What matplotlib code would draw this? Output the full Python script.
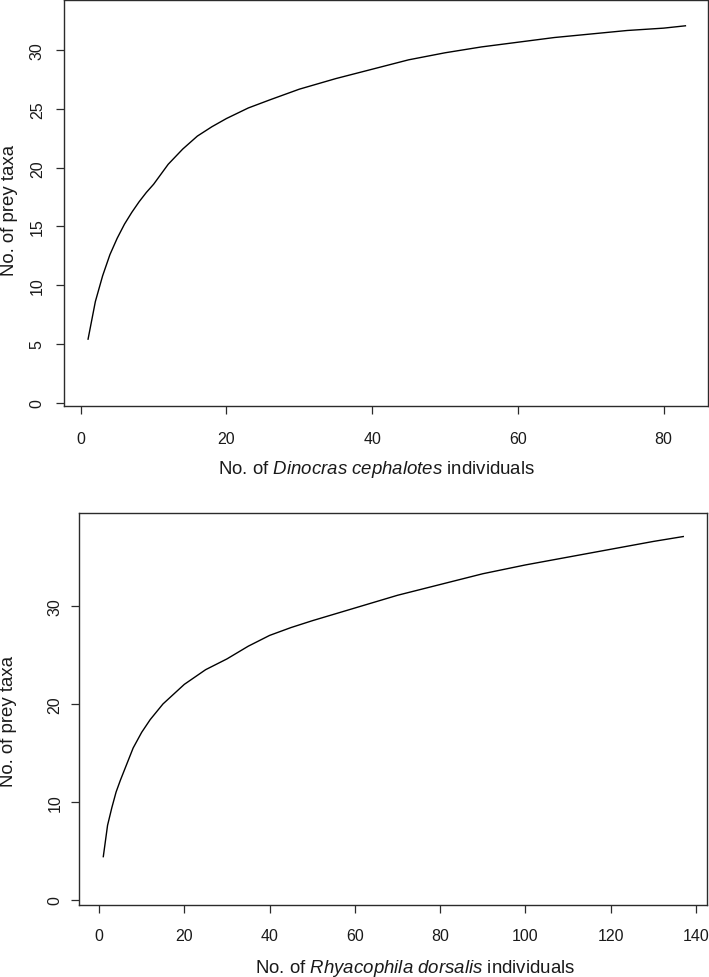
import numpy as np
import matplotlib
matplotlib.use("Agg")
import matplotlib.pyplot as plt

plt.rcParams['font.family'] = ['Liberation Sans', 'DejaVu Sans']
plt.rcParams['mathtext.fontset'] = 'custom'
plt.rcParams['mathtext.it'] = 'Liberation Sans:italic'
plt.rcParams['mathtext.rm'] = 'Liberation Sans'

# rarefaction curve, Dinocras cephalotes
dino_n = [1, 2, 3, 4, 5, 6, 7, 8, 9, 10, 12, 14, 16, 18, 20, 23, 26, 30,
          35, 40, 45, 50, 55, 60, 65, 70, 75, 80, 83]
dino_taxa = [5.4, 8.6, 10.8, 12.6, 14.0, 15.2, 16.2, 17.1, 17.9, 18.6, 20.3,
             21.6, 22.7, 23.5, 24.2, 25.1, 25.8, 26.7, 27.6, 28.4, 29.2, 29.8,
             30.3, 30.7, 31.1, 31.4, 31.7, 31.9, 32.1]

# rarefaction curve, Rhyacophila dorsalis
rhya_n = [1, 2, 3, 4, 5, 6, 8, 10, 12, 15, 20, 25, 30, 35, 40, 45, 50, 60,
          70, 80, 90, 100, 110, 120, 130, 137]
rhya_taxa = [4.4, 7.6, 9.4, 11.0, 12.2, 13.3, 15.5, 17.1, 18.4, 20.0, 22.0,
             23.5, 24.6, 25.9, 27.0, 27.8, 28.5, 29.8, 31.1, 32.2, 33.3, 34.2,
             35.0, 35.8, 36.6, 37.1]

dino_xticks = [0, 20, 40, 60, 80]
dino_yticks = [0, 5, 10, 15, 20, 25, 30]
rhya_xticks = [0, 20, 40, 60, 80, 100, 120, 140]
rhya_yticks = [0, 10, 20, 30]

frame = '#2b2b2b'
ink = '#1a1a1a'

fig = plt.figure(figsize=(7.09, 9.78), dpi=100)
ax1 = fig.add_axes([0.0903, 0.5838, 0.9083, 0.4152])
ax2 = fig.add_axes([0.1114, 0.0739, 0.8854, 0.4002])


def style(ax, xt, yt, xpad, ypad):
    for s in ax.spines.values():
        s.set_color(frame)
        s.set_linewidth(1.0)
    ax.set_xticks(xt)
    ax.set_yticks(yt)
    ax.tick_params(axis='both', length=5.8, width=0.9, color=frame,
                   labelsize=11.5, labelcolor=ink)
    ax.tick_params(axis='x', pad=xpad)
    ax.tick_params(axis='y', pad=ypad)
    for lab in ax.get_yticklabels():
        lab.set_rotation(90)
        lab.set_va('center')


def labels(ax, xlabel, xpos, ypos):
    ax.set_ylabel('No. of prey taxa', fontsize=13.4, color=ink)
    ax.yaxis.label.set_va('center')
    ax.yaxis.set_label_coords(*ypos)
    ax.set_xlabel(xlabel, fontsize=13.4, color=ink)
    ax.xaxis.label.set_va('center')
    ax.xaxis.set_label_coords(*xpos)


ax1.plot(dino_n, dino_taxa, color='black', lw=1.0)
ax1.set_xlim(-2.3, 86.1)
ax1.set_ylim(-0.3, 34.3)
style(ax1, dino_xticks, dino_yticks, 12, 8)
labels(ax1, r'No. of $\it{Dinocras}$ $\it{cephalotes}$ individuals',
       (0.485, -0.155), (-0.084, 0.484))

ax2.plot(rhya_n, rhya_taxa, color='black', lw=1.0)
ax2.set_xlim(-4.7, 142.5)
ax2.set_ylim(-0.51, 39.47)
style(ax2, rhya_xticks, rhya_yticks, 11, 6)
labels(ax2, r'No. of $\it{Rhyacophila}$ $\it{dorsalis}$ individuals',
       (0.535, -0.16), (-0.1115, 0.47))

fig.savefig('out.png', dpi=100)
